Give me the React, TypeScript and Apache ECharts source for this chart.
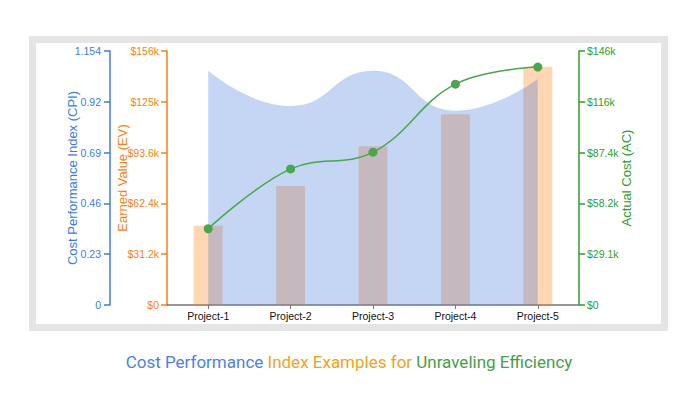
import React, { useEffect, useRef } from "react";
import * as echarts from "echarts";

const categories = ["Project-1", "Project-2", "Project-3", "Project-4", "Project-5"];
const earnedValue = [48.7, 73.1, 97.5, 117.1, 146.4]; // $k
const actualCost = [43.7, 78.0, 87.6, 126.6, 136.4]; // $k
const cpi = [1.064, 0.904, 1.064, 0.883, 1.027];

const cpiTicks = ["0", "0.23", "0.46", "0.69", "0.92", "1.154"];
const evTicks = ["$0", "$31.2k", "$62.4k", "$93.6k", "$125k", "$156k"];
const acTicks = ["$0", "$29.1k", "$58.2k", "$87.4k", "$116k", "$146k"];
const cpiMax = 1.154;
const evMax = 156;
const acMax = 145.6;

const BLUE = "#3b7ced";
const ORANGE = "#ff7f0e";
const GREEN = "#2ca02c";

export default function App() {
  const ref = useRef<HTMLDivElement>(null);
  useEffect(() => {
    if (!ref.current) return;
    const chart = echarts.init(ref.current, undefined, { renderer: "svg" });
    const font = "Arial, 'Liberation Sans', sans-serif";
    const yAxisBase = (color: string) => ({
      type: "value" as const,
      min: 0,
      splitLine: { show: false },
      axisLine: { show: true, lineStyle: { color, width: 1.5 } },
      axisTick: { show: true, length: 6, lineStyle: { color, width: 1.5 } },
      nameLocation: "middle" as const,
      nameRotate: 90,
      nameMoveOverlap: false,
      nameTextStyle: { color, fontSize: 13, fontFamily: font },
    });
    chart.setOption({
      animation: false,
      backgroundColor: "#ffffff",
      graphic: [
        {
          type: "rect",
          shape: { x: 32.5, y: 39.5, width: 632, height: 288 },
          style: { fill: "none", stroke: "#e5e5e5", lineWidth: 7 },
          z: -1,
        },
      ],
      title: {
        text: "{a|Cost Performance} {b|Index Examples for} {c|Unraveling Efficiency}",
        left: "center",
        top: 348,
        textStyle: {
          fontFamily: "Roboto",
          fontSize: 17,
          fontWeight: "normal",
          rich: {
            a: { color: "#4a7ff0", fontSize: 17, fontFamily: "Roboto" },
            b: { color: "#f5a11c", fontSize: 17, fontFamily: "Roboto" },
            c: { color: "#45a045", fontSize: 17, fontFamily: "Roboto" },
          },
        },
      },
      grid: { left: 167, right: 119, top: 51, bottom: 95 },
      xAxis: {
        type: "category",
        data: categories,
        boundaryGap: true,
        axisLine: { show: true, lineStyle: { color: "#777777", width: 1.5 } },
        axisTick: { show: true, alignWithLabel: true, length: 4, lineStyle: { color: "#777777" } },
        axisLabel: { color: "#111111", fontSize: 10.5, fontFamily: font, margin: 5 },
        splitLine: { show: false },
      },
      yAxis: [
        {
          ...yAxisBase(BLUE),
          position: "left",
          offset: 57,
          max: cpiMax,
          interval: cpiMax / 5,
          name: "Cost Performance Index (CPI)",
          nameGap: 31,
          axisLabel: {
            color: BLUE,
            fontSize: 10.5,
            fontFamily: font,
            margin: 9,
            formatter: (_v: number, i: number) => cpiTicks[i] ?? "",
          },
        },
        {
          ...yAxisBase(ORANGE),
          position: "left",
          offset: 0,
          max: evMax,
          interval: evMax / 5,
          name: "Earned Value (EV)",
          nameGap: 38,
          axisLabel: {
            color: ORANGE,
            fontSize: 10.5,
            fontFamily: font,
            margin: 8,
            formatter: (_v: number, i: number) => evTicks[i] ?? "",
          },
        },
        {
          ...yAxisBase(GREEN),
          position: "right",
          offset: 0,
          max: acMax,
          interval: acMax / 5,
          name: "Actual Cost (AC)",
          nameGap: 41,
          axisLabel: {
            color: GREEN,
            fontSize: 10.5,
            fontFamily: font,
            margin: 8,
            formatter: (_v: number, i: number) => acTicks[i] ?? "",
          },
        },
      ],
      series: [
        {
          name: "EV",
          type: "bar",
          yAxisIndex: 1,
          data: earnedValue,
          barWidth: 29,
          itemStyle: { color: "rgba(255,127,14,0.32)" },
          z: 1,
        },
        {
          name: "CPI",
          type: "line",
          yAxisIndex: 0,
          data: cpi,
          smooth: 0.5,
          symbol: "none",
          lineStyle: { width: 0 },
          areaStyle: { color: "rgba(62,118,222,0.3)", opacity: 1 },
          z: 2,
        },
        {
          name: "AC",
          type: "line",
          yAxisIndex: 2,
          data: actualCost,
          smooth: 0.4,
          symbol: "circle",
          symbolSize: 9,
          itemStyle: { color: "#4aa64a" },
          lineStyle: { color: "#4aa64a", width: 1.5 },
          z: 3,
        },
      ],
    });
    return () => chart.dispose();
  }, []);
  return (
    <div
      ref={ref}
      style={{ position: "fixed", left: 0, top: 0, width: 698, height: 400, background: "#fff" }}
    />
  );
}
